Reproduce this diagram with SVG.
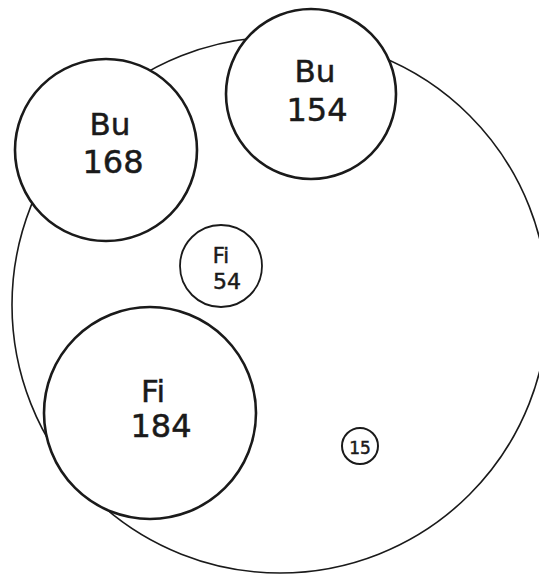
<svg xmlns="http://www.w3.org/2000/svg" width="539" height="574" viewBox="0 0 539 574">
<style>
.c{fill:#fff;stroke:#1a1a1a}
.t{font-family:"DejaVu Sans","Liberation Sans",sans-serif;fill:#1a1a1a;stroke:#1a1a1a;stroke-width:0.5;text-anchor:middle}
</style>
<rect width="539" height="574" fill="#fff"/>
<g id="outer"><circle class="c" cx="280" cy="305" r="268" stroke-width="1.6"/></g>
<g id="connectors"></g>
<g id="bu168"><circle class="c" cx="106" cy="150" r="91" stroke-width="2.6"/><text class="t" x="110" y="135" font-size="31">Bu</text><text class="t" x="113" y="173" font-size="32">168</text></g>
<g id="bu154"><circle class="c" cx="311" cy="94" r="85" stroke-width="2.6"/><text class="t" x="315" y="82" font-size="31">Bu</text><text class="t" x="317" y="121" font-size="32">154</text></g>
<g id="fi54"><circle class="c" cx="221" cy="266" r="41" stroke-width="1.8"/><text class="t" x="221" y="263" font-size="21">Fi</text><text class="t" x="227" y="289" font-size="22">54</text></g>
<g id="fi184"><circle class="c" cx="150" cy="413" r="106" stroke-width="2.6"/><text class="t" x="153" y="402" font-size="31">Fi</text><text class="t" x="161" y="437" font-size="32">184</text></g>
<g id="n15"><circle class="c" cx="360" cy="446" r="18" stroke-width="2"/><text class="t" x="360" y="454" font-size="17">15</text></g>
</svg>
